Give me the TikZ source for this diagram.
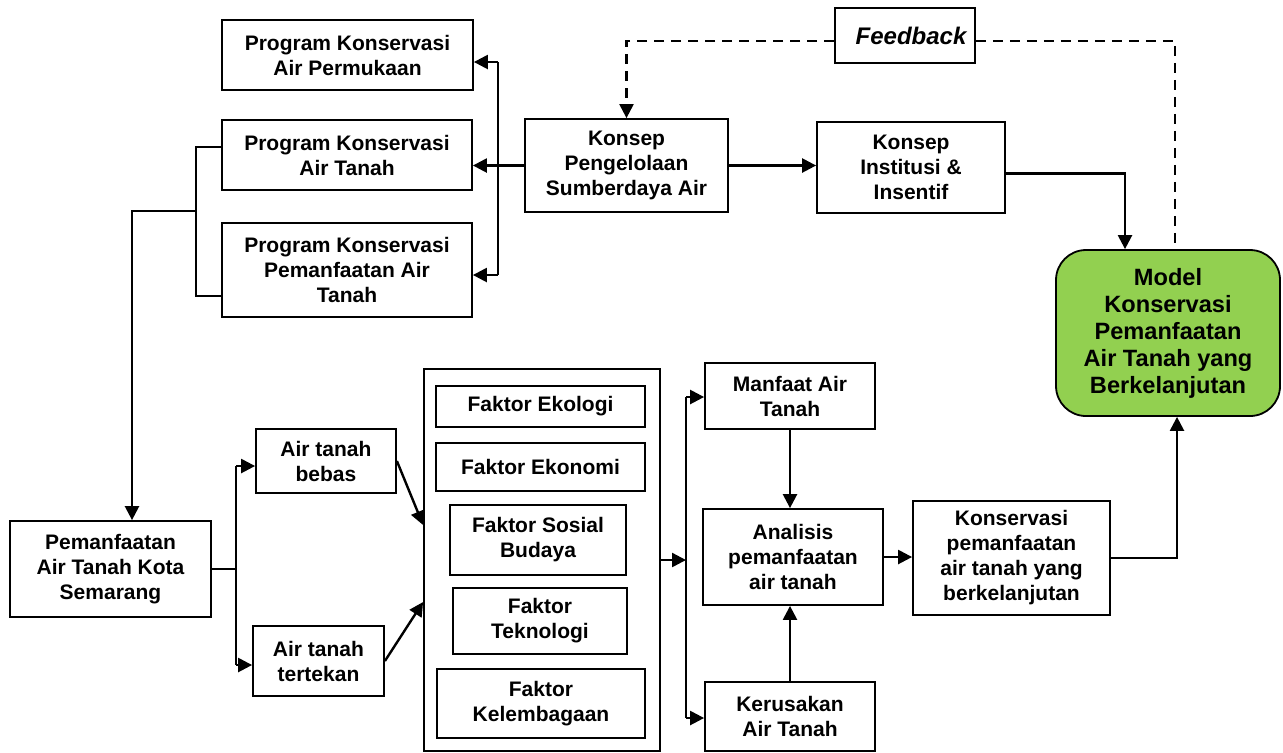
\documentclass[tikz,border=0pt]{standalone}
\usepackage{fontspec}
\setmainfont{Liberation Sans}
\usetikzlibrary{arrows.meta}
\definecolor{modelgreen}{HTML}{92D050}
\begin{document}
\begin{tikzpicture}[x=0.5pt,y=-0.5pt,
   box/.style={draw,line width=0.9pt,align=center,inner sep=0pt,font=\fontsize{10.5}{12.5}\selectfont\bfseries},
   arr/.style={line width=1.2pt,-{Triangle[length=7pt,width=7pt]}},
   lin/.style={line width=1.2pt},
   fbk/.style={line width=1.1pt,dash pattern=on 5pt off 3.5pt}]
   \useasboundingbox (0,0) rectangle (1283,752);
   \node[box,minimum width=125.5pt,minimum height=35pt] (pkp) at (347.5,55) {Program Konservasi\\Air Permukaan};
   \node[box,minimum width=125pt,minimum height=35pt] (pkt) at (347,155) {Program Konservasi\\Air Tanah};
   \node[box,minimum width=125pt,minimum height=47pt] (pkm) at (347,270) {Program Konservasi\\Pemanfaatan Air\\Tanah};
   \node[box,minimum width=101.5pt,minimum height=46.5pt] (kpsa) at (626.5,165.5) {Konsep\\Pengelolaan\\Sumberdaya Air};
   \node[box,minimum width=94pt,minimum height=45.5pt] (kii) at (911,167.5) {Konsep\\Institusi \&\\Insentif};
   \node[box,minimum width=70pt,minimum height=27.5pt,font=\fontsize{12}{14}\selectfont\bfseries\itshape] (fb) at (905,35.5) {\hspace*{6pt}Feedback};
   \node[box,fill=modelgreen,rounded corners=15pt,minimum width=112pt,minimum height=83pt,
      font=\fontsize{11.8}{13.5}\selectfont\bfseries] (model) at (1168,333) {Model\\Konservasi\\Pemanfaatan\\Air Tanah yang\\Berkelanjutan};
   \node[box,minimum width=100.5pt,minimum height=48pt] (pakota) at (110.5,569) {Pemanfaatan\\Air Tanah Kota\\Semarang};
   \node[box,minimum width=70pt,minimum height=32pt] (bebas) at (326,461) {Air tanah\\bebas};
   \node[box,minimum width=65.5pt,minimum height=35pt] (tertekan) at (318.5,661) {Air tanah\\tertekan};
   \node[box,minimum width=118pt,minimum height=191pt] (fbox) at (542,560) {};
   \node[box,minimum width=104.5pt,minimum height=20.5pt] (ekologi) at (540.5,406.5) {Faktor Ekologi};
   \node[box,minimum width=104.5pt,minimum height=24pt] (ekonomi) at (540.5,467) {Faktor Ekonomi};
   \node[box,minimum width=88pt,minimum height=35pt] (sosial) at (538,540) {Faktor Sosial\\Budaya};
   \node[box,minimum width=87pt,minimum height=33pt] (teknologi) at (540,621) {Faktor\\Teknologi};
   \node[box,minimum width=104pt,minimum height=34.5pt] (kelembagaan) at (541,703.5) {Faktor\\Kelembagaan};
   \node[box,minimum width=85pt,minimum height=33pt] (manfaat) at (790,396) {Manfaat Air\\Tanah};
   \node[box,minimum width=90pt,minimum height=48pt] (analisis) at (793,557) {Analisis\\pemanfaatan\\air tanah};
   \node[box,minimum width=85pt,minimum height=34.5pt] (kerusakan) at (790,716.5) {Kerusakan\\Air Tanah};
   \node[box,minimum width=98.5pt,minimum height=57pt] (konservasi) at (1011.5,558) {Konservasi\\pemanfaatan\\air tanah yang\\berkelanjutan};

   \coordinate (rt) at (498,62);
   \coordinate (rb) at (498,275);
   \draw[arr] (kpsa.west) -- (kpsa.west -| pkt.east);
   \draw[lin] (rt) -- (rb);
   \draw[arr] (rt) -- (rt -| pkp.east);
   \draw[arr] (rb) -- (rb -| pkm.east);

   \coordinate (lt) at (196,147);
   \coordinate (lb) at (196,296);
   \coordinate (lm) at (196,211);
   \coordinate (lk) at (132,211);
   \draw[lin] (lt -| pkt.west) -- (lt) -- (lb) -- (lb -| pkm.west);
   \draw[arr] (lm) -- (lk) -- (lk |- pakota.north);

   \draw[fbk,-{Triangle[length=7pt,width=7pt]}] ([yshift=-2.75pt]fb.west) -| (kpsa.north);
   \draw[fbk] ([yshift=-2.75pt]fb.east) -| ([xshift=3.5pt]model.north);
   \draw[arr] (kpsa.east) -- (kpsa.east -| kii.west);
   \draw[arr] ([yshift=-3pt]kii.east) -| ([xshift=-21.5pt]model.north);

   \coordinate (st) at (236,466);
   \coordinate (sb) at (236,665);
   \draw[lin] (pakota.east) -- (pakota.east -| st);
   \draw[lin] (st) -- (sb);
   \draw[arr] (st) -- (st -| bebas.west);
   \draw[arr] (sb) -- (sb -| tertekan.west);
   \draw[arr] (bebas.east) -- ([yshift=17.5pt]fbox.west);
   \draw[arr] (tertekan.east) -- ([yshift=-21pt]fbox.west);

   \coordinate (mt) at (686,397);
   \coordinate (mb) at (686,718);
   \draw[lin] (mt) -- (mb);
   \draw[arr] (fbox.east) -- (fbox.east -| mt);
   \draw[arr] (mt) -- (mt -| manfaat.west);
   \draw[arr] (mb) -- (mb -| kerusakan.west);
   \draw[arr] (manfaat.south) -- (manfaat.south |- analisis.north);
   \draw[arr] (kerusakan.north) -- (kerusakan.north |- analisis.south);
   \draw[arr] (analisis.east) -- (analisis.east -| konservasi.west);
   \draw[arr] (konservasi.east) -| ([xshift=4.5pt]model.south);
\end{tikzpicture}
\end{document}
